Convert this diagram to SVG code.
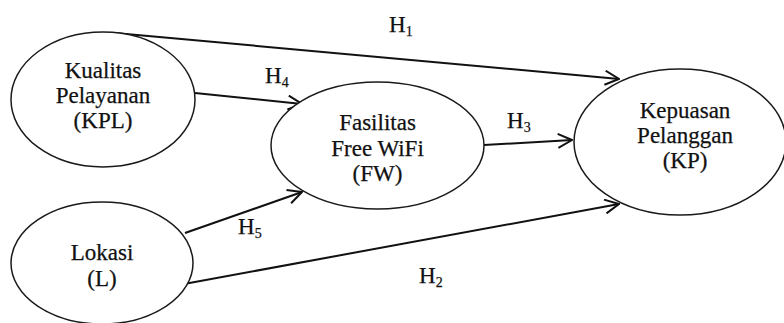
<svg xmlns="http://www.w3.org/2000/svg" width="784" height="323" viewBox="0 0 784 323">
<style>
.node ellipse{fill:#fff;stroke:#1a1a1a;stroke-width:1.5}
text{font-family:"Liberation Serif","Times New Roman",serif;font-size:23px;fill:#111;stroke:#111;stroke-width:0.25}
.node text{text-anchor:middle}
.sub{font-size:14px}
.edge{fill:none;stroke:#111;stroke-width:2}
</style>
<defs>
<marker id="arr" viewBox="0 0 16 16" refX="15" refY="8" markerWidth="16" markerHeight="16" markerUnits="userSpaceOnUse" orient="auto">
<path d="M1,1 L15,8 L1,15" fill="none" stroke="#111" stroke-width="2"/>
</marker>
</defs>
<rect width="784" height="323" fill="#fff"/>
<g id="connectors">
<line class="edge" x1="115" y1="33" x2="619" y2="79" marker-end="url(#arr)"/>
<line class="edge" x1="195" y1="93" x2="302" y2="104" marker-end="url(#arr)"/>
<line class="edge" x1="185" y1="233" x2="302" y2="192" marker-end="url(#arr)"/>
<line class="edge" x1="184" y1="284" x2="619" y2="204" marker-end="url(#arr)"/>
<line class="edge" x1="484" y1="145" x2="572" y2="140" marker-end="url(#arr)"/>
</g>
<g id="node-KPL" class="node">
<ellipse cx="103" cy="99.5" rx="92" ry="67.5"/>
<text x="103" y="78">Kualitas</text>
<text x="103" y="103">Pelayanan</text>
<text x="103" y="128">(KPL)</text>
</g>
<g id="node-L" class="node">
<ellipse cx="102" cy="263" rx="91" ry="61"/>
<text x="102" y="260">Lokasi</text>
<text x="102" y="286">(L)</text>
</g>
<g id="node-FW" class="node">
<ellipse cx="377.5" cy="145.5" rx="106.5" ry="63.5"/>
<text x="377.5" y="130">Fasilitas</text>
<text x="377.5" y="156">Free WiFi</text>
<text x="377.5" y="181">(FW)</text>
</g>
<g id="node-KP" class="node">
<ellipse cx="680" cy="142" rx="106" ry="73"/>
<text x="685" y="118">Kepuasan</text>
<text x="685" y="143">Pelanggan</text>
<text x="685" y="168">(KP)</text>
</g>
<g id="labels">
<text x="389" y="32">H<tspan class="sub" dy="4">1</tspan></text>
<text x="265" y="83">H<tspan class="sub" dy="4">4</tspan></text>
<text x="507" y="128">H<tspan class="sub" dy="4">3</tspan></text>
<text x="238" y="234">H<tspan class="sub" dy="4">5</tspan></text>
<text x="419" y="283">H<tspan class="sub" dy="4">2</tspan></text>
</g>
</svg>
